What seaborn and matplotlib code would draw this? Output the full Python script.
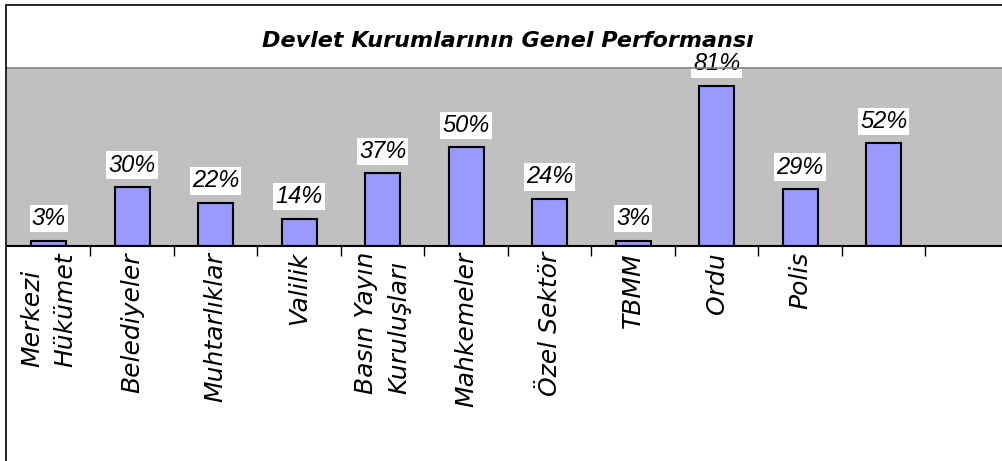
import matplotlib
matplotlib.use('Agg')
import matplotlib.pyplot as plt
from matplotlib.patches import Rectangle
import numpy as np
import pandas as pd
import seaborn as sns

# ── DATA ─────────────────────────────────────────────────────────────────────
CATEGORIES = ["Merkezi\nHükümet", "Belediyeler", "Muhtarlıklar", "Valilik",
              "Basın Yayın\nKuruluşları", "Mahkemeler", "Özel Sektör", "TBMM",
              "Ordu", "Polis", ""]
VALUES     = [3, 30, 22, 14, 37, 50, 24, 3, 81, 29, 52]
EMPTY_SLOT = [" "]          # unused category slot at the right end
TITLE      = "Devlet Kurumlarının Genel Performansı"
Y_MAX      = 90

# ── STYLE ────────────────────────────────────────────────────────────────────
W, H      = 1003, 461
DPI       = 100
BAR_COLOR = "#9999FF"
PLOT_BG   = "#C0C0C0"

sns.set_theme(style="white")
plt.rcParams['font.family'] = ['DejaVu Sans']

df = pd.DataFrame({"kurum": CATEGORIES, "oran": VALUES})
order = CATEGORIES + EMPTY_SLOT

fig = plt.figure(figsize=(W / DPI, H / DPI), dpi=DPI)
fig.patch.set_facecolor("white")
ax = fig.add_axes([7 / W, 214.5 / H, 1002 / W, 178.5 / H])
ax.set_facecolor(PLOT_BG)

sns.barplot(data=df, x="kurum", y="oran", order=order, color=BAR_COLOR,
            saturation=1, width=0.42, edgecolor="black", linewidth=1.5,
            errorbar=None, ax=ax)

ax.set_ylim(0, Y_MAX)
ax.set_xlim(-0.5, len(order) - 0.5)
ax.set_yticks([])
ax.set_xlabel("")
ax.set_ylabel("")

# value labels
for i, v in enumerate(VALUES):
    ax.annotate(f"{v}%", xy=(i, v), xytext=(0, 15.8), textcoords="offset points",
                ha="center", va="center", fontsize=17, fontstyle="italic",
                family="Liberation Sans", color="black", zorder=2,
                bbox=dict(facecolor="white", edgecolor="none", pad=1.5))

# category labels centred in slots, tick marks on slot boundaries
ax.tick_params(axis="x", which="major", length=0, pad=4, labelcolor="black")
for lbl in ax.get_xticklabels():
    lbl.set_rotation(90)
    lbl.set_fontsize(18)
    lbl.set_fontstyle("oblique")
    lbl.set_multialignment("left")
    lbl.set_linespacing(1.45)
ax.set_xticks(np.arange(0.5, len(order), 1), minor=True)
ax.tick_params(axis="x", which="minor", bottom=True, length=7, width=1,
               color="black", direction="out")

for side in ["left", "right"]:
    ax.spines[side].set_visible(False)
ax.spines["top"].set_color("#808080")
ax.spines["top"].set_linewidth(1.2)
ax.spines["bottom"].set_color("black")
ax.spines["bottom"].set_linewidth(1.5)

ax.set_title(TITLE, fontsize=16, fontweight="bold", fontstyle="oblique",
             pad=15.4, color="black")

# chart frame (right and bottom edges lie outside the picture)
fig.add_artist(Rectangle((6.5 / W, -0.2), 1.2, (H - 4.5) / H + 0.2,
                         transform=fig.transFigure, fill=False,
                         edgecolor="black", linewidth=1.2))

plt.savefig("out.png", dpi=DPI)
plt.close()
